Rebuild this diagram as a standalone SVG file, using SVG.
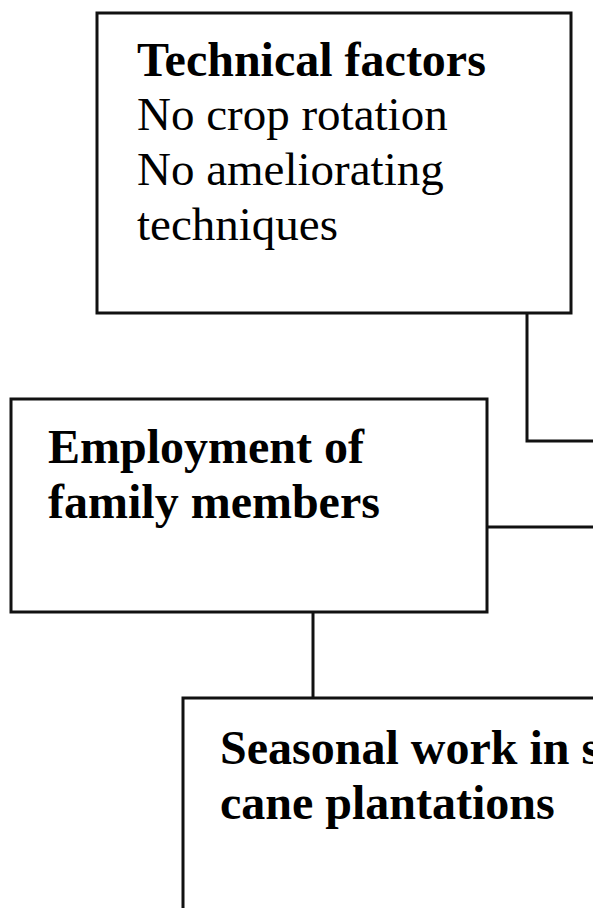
<svg xmlns="http://www.w3.org/2000/svg" width="593" height="908" viewBox="0 0 593 908">
<style>
.box{fill:#fff;stroke:#111;stroke-width:3}
.conn{fill:none;stroke:#111;stroke-width:3}
.t{font-family:"Liberation Serif","Times New Roman",serif;font-size:47px;fill:#000}
.b{font-weight:bold;font-size:48px}
</style>
<rect width="593" height="908" fill="#fff"/>
<g id="connectors">
<polyline class="conn" points="527,313 527,441 595,441"/>
<line class="conn" x1="487" y1="527" x2="595" y2="527"/>
<line class="conn" x1="313" y1="612" x2="313" y2="698"/>
</g>
<g id="technical-factors">
<rect class="box" x="97" y="13" width="474" height="300"/>
<text class="t b" x="137" y="76">Technical factors</text>
<text class="t" x="137" y="130">No crop rotation</text>
<text class="t" x="137" y="185">No ameliorating</text>
<text class="t" x="137" y="240">techniques</text>
</g>
<g id="employment">
<rect class="box" x="11" y="399" width="476" height="213"/>
<text class="t b" x="48" y="463">Employment of</text>
<text class="t b" x="48" y="518">family members</text>
</g>
<g id="seasonal-work">
<rect class="box" x="183" y="698" width="500" height="300"/>
<text class="t b" x="220" y="764">Seasonal work in s</text>
<text class="t b" x="220" y="819">cane plantations</text>
</g>
</svg>
